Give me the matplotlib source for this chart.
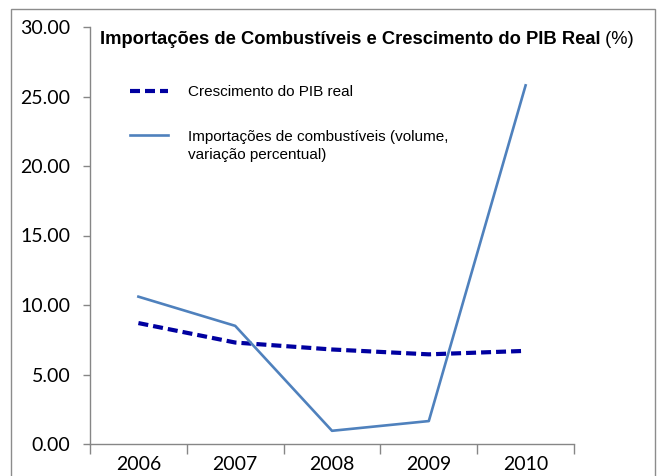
import matplotlib
matplotlib.use("Agg")
import matplotlib.pyplot as plt
from matplotlib.patches import Rectangle
from matplotlib.ticker import FixedLocator

years = ["2006", "2007", "2008", "2009", "2010"]
pib_growth = [8.7, 7.3, 6.8, 6.45, 6.7]
fuel_imports = [10.6, 8.5, 0.95, 1.65, 25.8]
yticks = [0, 5, 10, 15, 20, 25, 30]
title_bold = "Importações de Combustíveis e Crescimento do PIB Real"
title_rest = " (%)"
label_pib = "Crescimento do PIB real"
label_imp_1 = "Importações de combustíveis (volume,"
label_imp_2 = "variação percentual)"

W, H = 660, 476
fig = plt.figure(figsize=(W / 100, H / 100), dpi=100)

def fx(px):
    return px / W

def fy(py):
    return 1 - py / H

# outer frame
fig.patches.append(Rectangle((fx(11), fy(490)), fx(655) - fx(11), fy(9) - fy(490),
                             transform=fig.transFigure, fill=False,
                             edgecolor="#8c8c8c", linewidth=1.0))

ax = fig.add_axes([fx(90), fy(444), fx(574) - fx(90), fy(27) - fy(444)])
x = list(range(len(years)))
ax.plot(x, pib_growth, color="#0000A0", linewidth=3.0, linestyle=(0, (2.4, 1.2)),
        solid_capstyle="butt", dash_capstyle="butt", label=label_pib)
ax.plot(x, fuel_imports, color="#4F81BD", linewidth=1.9, label=label_imp_1)

ax.set_xlim(-0.5, len(years) - 0.5)
ax.set_ylim(0, 30)
ax.set_xticks(x)
ax.set_xticklabels(years)
ax.xaxis.set_minor_locator(FixedLocator([i - 0.5 for i in range(len(years) + 1)]))
ax.tick_params(axis="x", which="major", length=0, pad=9, labelsize=14)
ax.tick_params(axis="x", which="minor", length=7, color="#868686", width=1)
ax.set_yticks(yticks)
ax.set_yticklabels([f"{v:.2f}" for v in yticks])
ax.tick_params(axis="y", length=5, color="#868686", width=1, pad=9, labelsize=14)
for lab in ax.get_xticklabels() + ax.get_yticklabels():
    lab.set_fontfamily("Lato")
for s in ["top", "right"]:
    ax.spines[s].set_visible(False)
for s in ["left", "bottom"]:
    ax.spines[s].set_color("#868686")
    ax.spines[s].set_linewidth(1)

t1 = fig.text(fx(100), fy(39), title_bold, fontsize=13.2, fontweight="bold",
              family="Liberation Sans", va="center", ha="left")
fig.canvas.draw()
bb = t1.get_window_extent()
fig.text(bb.x1 / W, fy(39), title_rest, fontsize=13.2, family="Liberation Sans",
         va="center", ha="left")

leg = ax.legend(loc="upper left", bbox_to_anchor=(fx(130), fy(85)),
                bbox_transform=fig.transFigure, frameon=False,
                prop={"family": "Liberation Sans", "size": 11},
                handlelength=2.5, handletextpad=1.3, labelspacing=2.0,
                borderpad=0, borderaxespad=0)
fig.canvas.draw()
last = leg.get_texts()[-1].get_window_extent()
fig.text(last.x0 / W, (last.y0 - 4) / H, label_imp_2, fontsize=11,
         family="Liberation Sans", va="top", ha="left")

fig.savefig("out.png", dpi=100)
